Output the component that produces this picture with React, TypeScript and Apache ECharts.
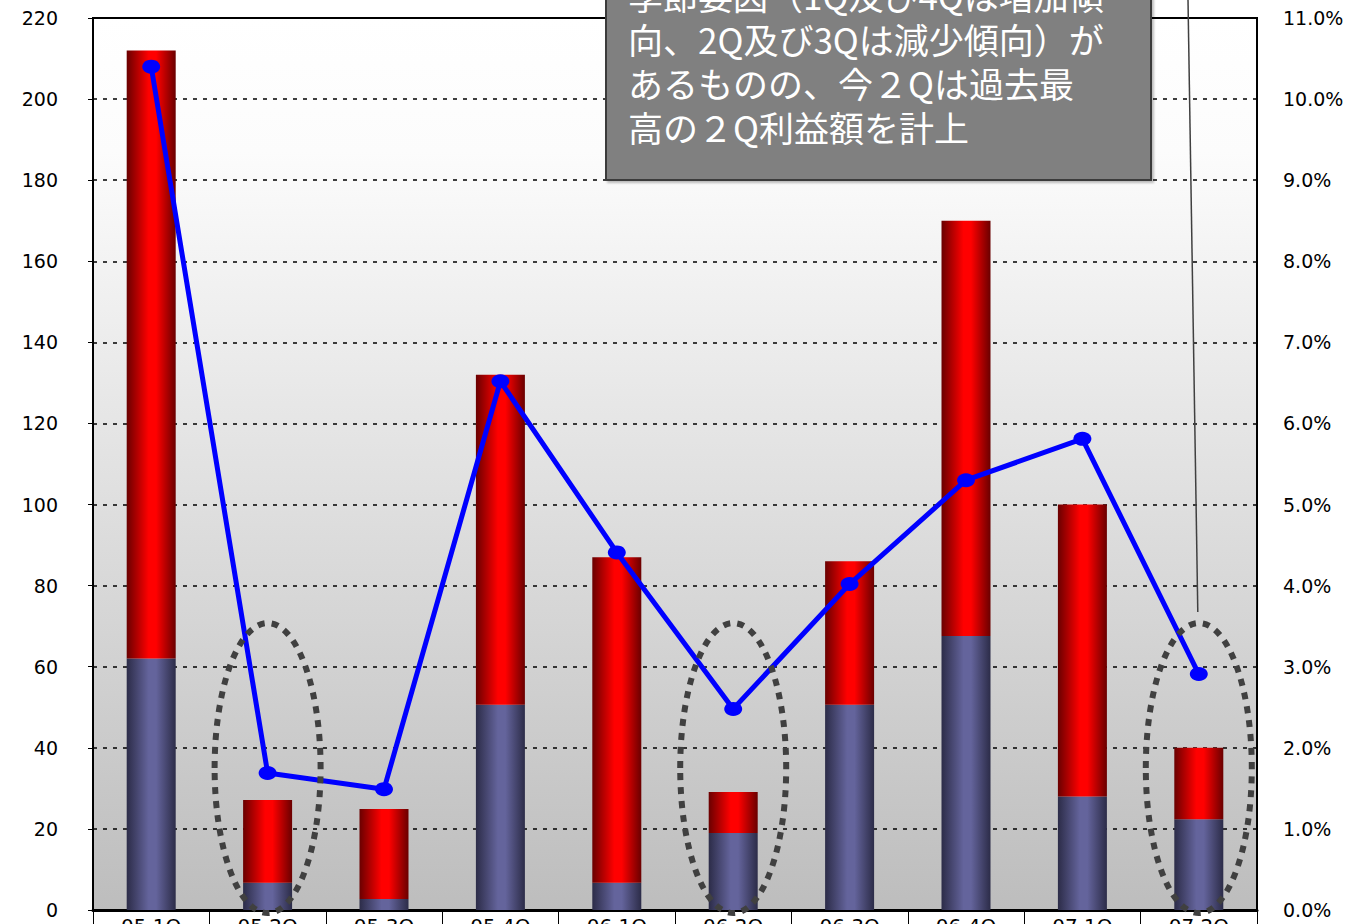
import React, { useEffect, useRef } from "react";
import * as echarts from "echarts";

const categories = ["05.1Q", "05.2Q", "05.3Q", "05.4Q", "06.1Q", "06.2Q", "06.3Q", "06.4Q", "07.1Q", "07.2Q"];
const lowerValues = [62, 6.7, 2.7, 50.6, 6.7, 19, 50.6, 67.6, 28, 22.4];
const upperValues = [150, 20.4, 22.2, 81.4, 80.3, 10.1, 35.4, 102.4, 72, 17.6];
const ratioValues = [10.4, 1.69, 1.49, 6.52, 4.41, 2.48, 4.02, 5.3, 5.81, 2.91];
const highlighted = ["05.2Q", "06.2Q", "07.2Q"];
const noteLines = [
  "季節要因（1Q及び4Qは増加傾",
  "向、2Q及び3Qは減少傾向）が",
  "あるものの、今２Qは過去最",
  "高の２Q利益額を計上",
];

const hGrad = (edge: string, mid: string) =>
  new echarts.graphic.LinearGradient(0, 0, 1, 0, [
    { offset: 0, color: edge },
    { offset: 0.45, color: mid },
    { offset: 0.6, color: mid },
    { offset: 1, color: edge },
  ]);

export default function App() {
  const ref = useRef<HTMLDivElement>(null);
  useEffect(() => {
    if (!ref.current) return;
    const chart = echarts.init(ref.current, null, { renderer: "svg" });
    const axisFont = { fontFamily: "DejaVu Sans", fontSize: 19, color: "#000" };
    chart.setOption({
      animation: false,
      backgroundColor: "#ffffff",
      grid: {
        left: 93,
        right: 97,
        top: 18,
        bottom: 14,
        containLabel: false,
        outerBoundsMode: "none",
        show: true,
        borderColor: "#000",
        borderWidth: 2,
        backgroundColor: new echarts.graphic.LinearGradient(0, 0, 0, 1, [
          { offset: 0, color: "#ffffff" },
          { offset: 0.15, color: "#fcfcfc" },
          { offset: 1, color: "#bdbdbd" },
        ]),
      },
      xAxis: {
        type: "category",
        data: categories,
        boundaryGap: true,
        axisLine: { show: true, lineStyle: { color: "#000", width: 3 } },
        axisTick: { show: true, alignWithLabel: false, length: 16, lineStyle: { color: "#000", width: 1 } },
        axisLabel: { ...axisFont, fontSize: 20, margin: 6, interval: 0 },
        splitLine: { show: false },
      },
      yAxis: [
        {
          type: "value",
          min: 0,
          max: 220,
          interval: 20,
          axisLine: { show: true, lineStyle: { color: "#000", width: 2 } },
          axisTick: { show: true, length: 5, lineStyle: { color: "#000" } },
          axisLabel: { ...axisFont, margin: 35 },
          splitLine: { show: true, lineStyle: { color: "#000", type: [4, 6], width: 1.5 } },
        },
        {
          type: "value",
          min: 0,
          max: 11,
          interval: 1,
          position: "right",
          axisLine: { show: true, lineStyle: { color: "#000", width: 2 } },
          axisTick: { show: false },
          axisLabel: { ...axisFont, margin: 26, formatter: (v: number) => v.toFixed(1) + "%" },
          splitLine: { show: false },
        },
      ],
      series: [
        {
          name: "lower",
          type: "bar",
          stack: "total",
          barWidth: 49,
          data: lowerValues,
          itemStyle: { color: hGrad("#2c2c48", "#64649c") },
        },
        {
          name: "upper",
          type: "bar",
          stack: "total",
          barWidth: 49,
          data: upperValues,
          itemStyle: { color: hGrad("#6a0000", "#ff0000") },
        },
        {
          name: "ratio",
          type: "line",
          yAxisIndex: 1,
          data: ratioValues,
          symbol: "circle",
          symbolSize: [18, 14],
          itemStyle: { color: "#0000ff" },
          lineStyle: { color: "#0000ff", width: 5 },
          z: 5,
        },
      ],
    });

    const ellipses = highlighted.map((c) => {
      const [cx, cy] = chart.convertToPixel({ xAxisIndex: 0, yAxisIndex: 0 }, [c, 35]) as number[];
      return {
        type: "ellipse",
        shape: { cx, cy, rx: 53, ry: 145 },
        style: { fill: "none", stroke: "#404040", lineWidth: 6, lineDash: [7, 7] },
        z: 20,
      };
    });
    const last = chart.convertToPixel({ xAxisIndex: 0, yAxisIndex: 0 }, [highlighted[2], 0]) as number[];

    chart.setOption({
      graphic: [
        ...ellipses,
        {
          type: "line",
          shape: { x1: 1188, y1: 0, x2: last[0] - 1, y2: 612 },
          style: { stroke: "#404040", lineWidth: 1.5 },
          z: 21,
        },
        {
          type: "rect",
          shape: { x: 606, y: -40, width: 545, height: 220 },
          style: { fill: "#808080", stroke: "#3a3a3a", lineWidth: 2, shadowColor: "rgba(0,0,0,0.25)", shadowOffsetX: 2, shadowOffsetY: 2, shadowBlur: 2 },
          z: 30,
        },
        {
          type: "text",
          x: 628,
          y: -28,
          style: {
            text: noteLines.join("\n"),
            fill: "#ffffff",
            font: '35px "Noto Sans CJK JP"',
            lineHeight: 44,
            verticalAlign: "top",
            align: "left",
          },
          z: 31,
        },
      ],
    });
    return () => chart.dispose();
  }, []);
  return <div ref={ref} style={{ position: "fixed", left: 0, top: 0, width: 1354, height: 924 }} />;
}
